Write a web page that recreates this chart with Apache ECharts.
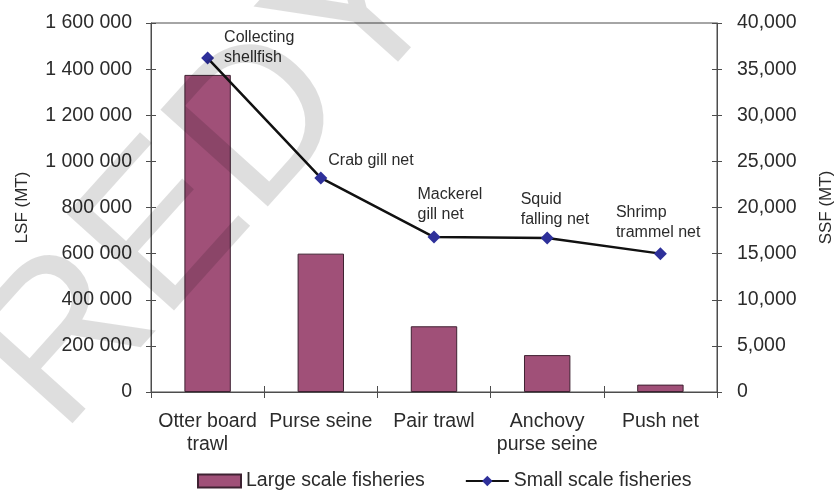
<!DOCTYPE html>
<html>
<head>
<meta charset="utf-8">
<script src="https://cdn.jsdelivr.net/npm/echarts@6/dist/echarts.min.js"></script>
<style>
  html, body { margin: 0; padding: 0; background: #fff; }
  #chart { width: 835px; height: 491px; }
</style>
</head>
<body>
<div id="chart"></div>
<script>
// Large scale fishing gear (bars, left axis) and small scale gear (line, right axis)
const categories = ['Otter board\ntrawl', 'Purse seine', 'Pair trawl', 'Anchovy\npurse seine', 'Push net'];
const lsfValues = [1375000, 600000, 285000, 160000, 32000];
const ssfGear = ['Collecting\nshellfish', 'Crab gill net', 'Mackerel\ngill net', 'Squid\nfalling net', 'Shrimp\ntrammel net'];
const ssfValues = [36200, 23200, 16800, 16700, 15000];
const lsfTicks = { min: 0, max: 1600000, interval: 200000 };
const ssfTicks = { min: 0, max: 40000, interval: 5000 };

// label placement for each small-scale gear name, relative to its marker
const gearLabelOffsets = [[5, -10], [-4, -17], [-28, -32], [-38, -28], [-56, -31]];

const FONT = 'Liberation Sans, Arial, sans-serif';
const TEXT = '#2b2b2b';
const AXIS = '#4d4d4d';
const NUM_FONT = { fontFamily: FONT, fontSize: 19.5, color: TEXT };

const spaced = v => String(v).replace(/\B(?=(\d{3})+(?!\d))/g, ' ');
const commas = v => String(v).replace(/\B(?=(\d{3})+(?!\d))/g, ',');

const chart = echarts.init(document.getElementById('chart'), null, { renderer: 'canvas' });

// extra axes that only draw the inner half of the crossing tick marks
const tickOnly = (pos, scale) => ({
  type: 'value', position: pos, min: scale.min, max: scale.max, interval: scale.interval,
  axisLine: { show: false }, splitLine: { show: false }, axisLabel: { show: false },
  axisTick: { show: true, inside: true, length: 5, lineStyle: { color: AXIS, width: 1 } }
});

chart.setOption({
  animation: false,
  backgroundColor: '#ffffff',
  grid: {
    left: 151, right: 118, top: 23, bottom: 99,
    outerBoundsMode: 'none', containLabel: false,
    show: true, borderColor: AXIS, borderWidth: 1, backgroundColor: 'transparent'
  },
  legend: {
    left: 197, top: 471, padding: 0, itemGap: 40, itemWidth: 43, itemHeight: 13,
    textStyle: { fontFamily: FONT, fontSize: 19.5, color: TEXT },
    data: [
      { name: 'Large scale fisheries', icon: 'rect' },
      { name: 'Small scale fisheries' }
    ]
  },
  xAxis: [
    {
      type: 'category', data: categories, boundaryGap: true,
      axisLine: { lineStyle: { color: AXIS, width: 1 } },
      axisTick: { show: true, length: 6, lineStyle: { color: AXIS } },
      axisLabel: { margin: 18, fontFamily: FONT, fontSize: 19.5, color: TEXT, lineHeight: 23, interval: 0 }
    },
    {
      type: 'category', data: categories, boundaryGap: true, position: 'bottom',
      axisLine: { show: false }, axisLabel: { show: false },
      axisTick: { show: true, inside: true, length: 6, lineStyle: { color: AXIS } }
    }
  ],
  yAxis: [
    {
      type: 'value', position: 'left', min: lsfTicks.min, max: lsfTicks.max, interval: lsfTicks.interval,
      name: 'LSF (MT)', nameLocation: 'middle', nameGap: 120, nameRotate: 90,
      nameTextStyle: { fontFamily: FONT, fontSize: 17, color: TEXT },
      axisLine: { show: true, lineStyle: { color: AXIS, width: 1 } },
      axisTick: { show: true, length: 5, lineStyle: { color: AXIS } },
      splitLine: { show: false },
      axisLabel: Object.assign({ margin: 19, formatter: spaced }, NUM_FONT)
    },
    {
      type: 'value', position: 'right', min: ssfTicks.min, max: ssfTicks.max, interval: ssfTicks.interval,
      name: 'SSF (MT)', nameLocation: 'middle', nameGap: 101, nameRotate: 90,
      nameTextStyle: { fontFamily: FONT, fontSize: 17, color: TEXT },
      axisLine: { show: true, lineStyle: { color: AXIS, width: 1 } },
      axisTick: { show: true, length: 5, lineStyle: { color: AXIS } },
      splitLine: { show: false },
      axisLabel: Object.assign({ margin: 20, formatter: commas }, NUM_FONT)
    },
    tickOnly('left', lsfTicks),
    tickOnly('right', ssfTicks)
  ],
  series: [
    {
      name: 'Large scale fisheries', type: 'bar', xAxisIndex: 0, yAxisIndex: 0,
      data: lsfValues, barWidth: '41%',
      itemStyle: { color: '#a05078', borderColor: '#3f2232', borderWidth: 1 }
    },
    {
      name: 'Small scale fisheries', type: 'line', xAxisIndex: 0, yAxisIndex: 1,
      data: ssfValues.map((v, i) => ({
        value: v,
        label: { show: true, position: 'right', offset: gearLabelOffsets[i], formatter: ssfGear[i] }
      })),
      symbol: 'diamond', symbolSize: 13,
      lineStyle: { color: '#111111', width: 2.5 },
      itemStyle: { color: '#2e309a' },
      label: { fontFamily: FONT, fontSize: 16, color: TEXT, lineHeight: 20, align: 'left', verticalAlign: 'middle' },
      z: 3
    }
  ],
  graphic: [
    {
      type: 'text', x: -60, y: 327, rotation: 48 * Math.PI / 180, z: 100, silent: true,
      style: { text: 'REDY', fontFamily: FONT, fontSize: 210, fill: 'rgba(0,0,0,0.13)', align: 'left', verticalAlign: 'alphabetic' }
    }
  ]
});
</script>
</body>
</html>
